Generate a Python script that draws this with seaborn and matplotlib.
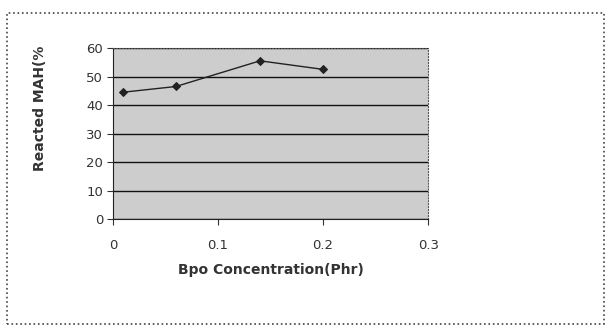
import numpy as np
import pandas as pd
import seaborn as sns
import matplotlib.pyplot as plt
from matplotlib.patches import Rectangle

# Bpo concentration (Phr) vs reacted MAH (%)
bpo = [0.01, 0.06, 0.14, 0.2]
mah = [44.5, 46.5, 55.5, 52.5]
x_ticks = [0, 0.1, 0.2, 0.3]
y_ticks = [0, 10, 20, 30, 40, 50, 60]

sns.set_style('white')
plt.rcParams['font.family'] = ['DejaVu Sans']

df = pd.DataFrame({'bpo': bpo, 'mah': mah})

fig = plt.figure(figsize=(6.1, 3.31), dpi=100)
ax = fig.add_axes([0.185, 0.338, 0.517, 0.517])
ax.set_facecolor('#cdcdcd')

sns.lineplot(data=df, x='bpo', y='mah', ax=ax, color='#222222', lw=1.0,
             marker='D', markersize=4, markeredgecolor='#222222', zorder=3)

ax.set_xlim(0, 0.3)
ax.set_ylim(0, 60)
ax.set_xticks(x_ticks)
ax.set_xticklabels(['0', '0.1', '0.2', '0.3'])
ax.set_yticks(y_ticks)
ax.yaxis.grid(True, color='#111111', lw=1.0)
ax.set_axisbelow(True)
ax.tick_params(axis='both', labelsize=9.5, colors='#333333', length=4,
               direction='out', bottom=True, left=True, pad=3)
ax.tick_params(axis='x', pad=10)

for side in ['top', 'right']:
    ax.spines[side].set_linestyle(':')
    ax.spines[side].set_color('#555555')
for side in ['left', 'bottom']:
    ax.spines[side].set_color('#222222')

ax.set_xlabel('Bpo Concentration(Phr)', fontsize=10, fontweight='bold',
              color='#333333', labelpad=8)
ax.set_ylabel('Reacted MAH(%', fontsize=10, fontweight='bold',
              color='#333333')
ax.yaxis.set_label_coords(-0.21, 0.65)

fig.patches.append(Rectangle((0.012, 0.022), 0.978, 0.94,
                             transform=fig.transFigure, fill=False,
                             ls=':', lw=1.2, color='#444444'))

plt.savefig('out.png', dpi=100)
